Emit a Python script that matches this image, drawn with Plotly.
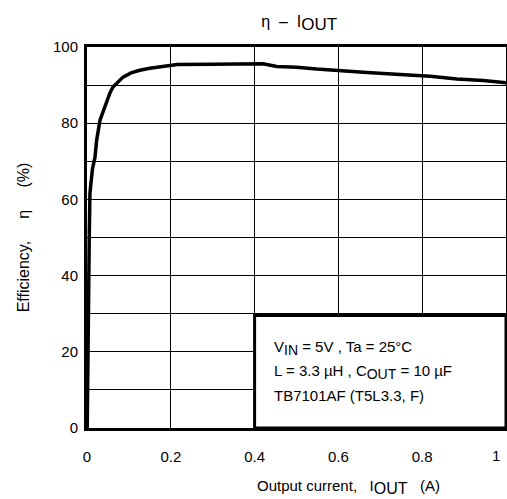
import plotly.graph_objects as go

# efficiency curve
i_out = [0.0005, 0.002, 0.0035, 0.0045, 0.0055, 0.007, 0.010, 0.013, 0.019, 0.023,
         0.031, 0.040, 0.047, 0.055, 0.062, 0.075, 0.086, 0.105, 0.126, 0.150,
         0.174, 0.215, 0.30, 0.387, 0.420, 0.453, 0.50, 0.548, 0.604, 0.668,
         0.747, 0.819, 0.883, 0.946, 1.0]
efficiency = [0, 22, 30, 47.4, 51, 61.6, 65.5, 68, 71, 75.5,
              80.8, 83.5, 86, 88, 89.5, 91, 92.1, 93.2, 93.9, 94.4,
              94.8, 95.4, 95.5, 95.6, 95.6, 94.9, 94.7, 94.2, 93.7, 93.3,
              92.8, 92.3, 91.6, 91.2, 90.6]

x_ticks = [0, 0.2, 0.4, 0.6, 0.8, 1]
x_tick_text = ["0", "0.2", "0.4", "0.6", "0.8", ""]  # "1" is put in by hand below
y_ticks = [0, 20, 40, 60, 80, 100]


def sub(s, size=15):
    # datasheet style subscript: dropped a little, not shrunk
    return '<sub><span style="font-size:%dpx">%s</span></sub>' % (size, s)


conditions = [
    "V" + sub("IN", 14) + " = 5V , Ta = 25°C",
    "L = 3.3 µH , C" + sub("OUT", 14) + " = 10 µF",
    "TB7101AF (T5L3.3, F)",
]
condition_y = [21.1, 14.6, 8.6]

font = "Liberation Sans, Arial, sans-serif"

fig = go.Figure()
fig.add_trace(go.Scatter(
    x=i_out, y=efficiency, mode="lines",
    line=dict(color="black", width=3.5),
    hoverinfo="x+y", showlegend=False,
))

# conditions box in the lower right corner
fig.add_shape(type="rect", xref="x", yref="y", x0=0.4, x1=1.0, y0=0, y1=29.5,
              fillcolor="white", line=dict(color="black", width=3), layer="above")
for txt, yv in zip(conditions, condition_y):
    fig.add_annotation(x=0.441, y=yv, xref="x", yref="y", text=txt, showarrow=False,
                       xanchor="left", yanchor="middle",
                       font=dict(family=font, size=15, color="black"))

# last x tick label sits just inside the right edge
fig.add_annotation(x=1, y=-0.071, xref="x", yref="paper", text="1", showarrow=False,
                   xanchor="right", yanchor="middle", xshift=-4,
                   font=dict(family=font, size=15, color="black"))
# x axis title, placed right of centre like the original
fig.add_annotation(x=0.401, y=-0.155, xref="paper", yref="paper",
                   text="Output current,   I" + sub("OUT", 16) + "   (A)", showarrow=False,
                   xanchor="left", yanchor="middle",
                   font=dict(family=font, size=15, color="black"))

fig.update_layout(
    width=507, height=499,
    margin=dict(l=87, r=1, t=47, b=71, autoexpand=False),
    paper_bgcolor="white", plot_bgcolor="white",
    font=dict(family=font, size=15, color="black"),
    title=dict(text="η  –  I" + sub("OUT", 17), x=0.59, xanchor="center", y=0.957, yanchor="middle",
               font=dict(family=font, size=16, color="black")),
)
fig.update_xaxes(
    range=[0, 1], tickvals=x_ticks, ticktext=x_tick_text,
    showgrid=True, gridcolor="black", gridwidth=1, zeroline=False,
    showline=True, linecolor="black", linewidth=3, mirror=True,
    ticks="", ticklabelstandoff=13,
)
fig.update_yaxes(
    range=[0, 100], tickvals=y_ticks,
    showgrid=True, gridcolor="black", gridwidth=1, zeroline=False,
    minor=dict(dtick=10, showgrid=True, gridcolor="black", gridwidth=1),
    showline=True, linecolor="black", linewidth=3, mirror=True,
    ticks="", ticklabelstandoff=3,
    title=dict(text="Efficiency,     η     (%)", standoff=20,
               font=dict(family=font, size=16)),
)

# page has a default 8px body margin; drop it so the figure sits at the corner
fig.write_html("out.html", config={"displayModeBar": False},
               post_script="document.body.style.margin='0';")
